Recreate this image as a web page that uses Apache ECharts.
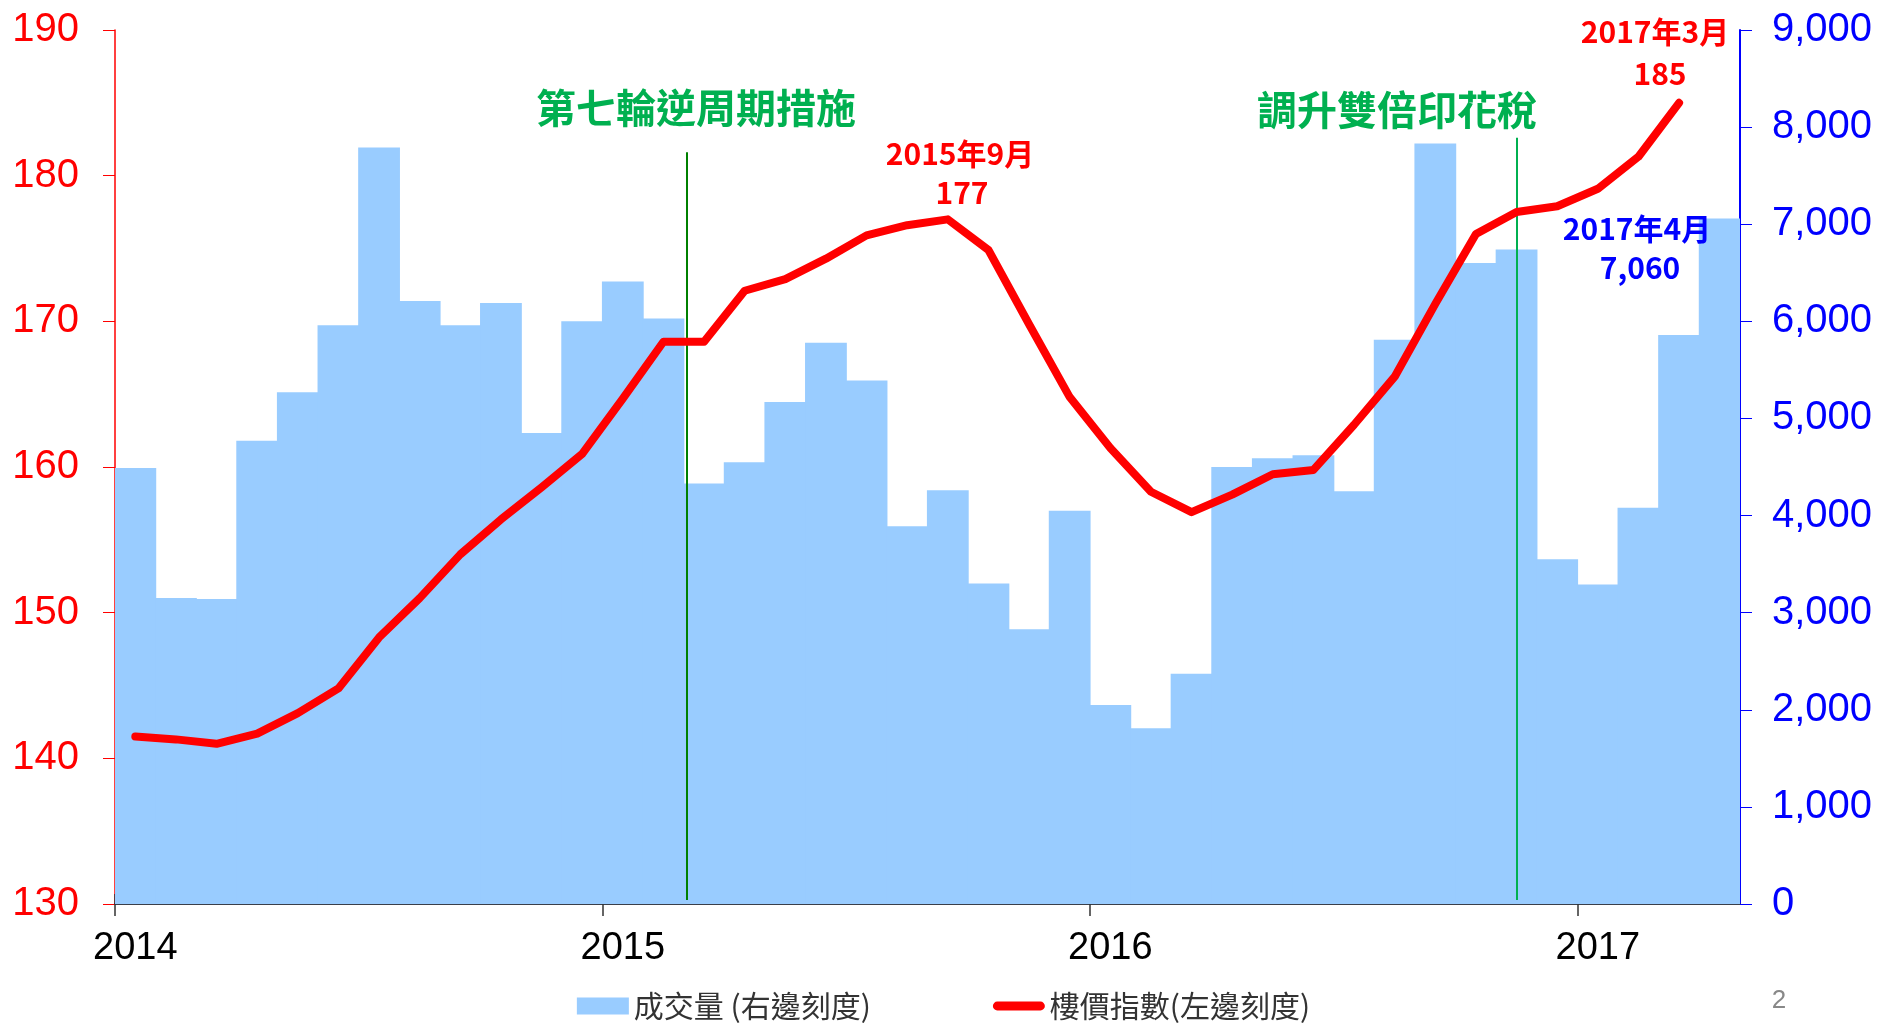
<!DOCTYPE html>
<html>
<head>
<meta charset="utf-8">
<script src="https://cdn.jsdelivr.net/npm/echarts@6/dist/echarts.min.js"></script>
<style>
  html, body { margin: 0; padding: 0; background: #fff; }
  #chart { width: 1887px; height: 1028px; }
</style>
</head>
<body>
<div id="chart"></div>
<script>
// months Jan 2014 .. Apr 2017
var months = [
  '2014/1','2014/2','2014/3','2014/4','2014/5','2014/6','2014/7','2014/8','2014/9','2014/10','2014/11','2014/12',
  '2015/1','2015/2','2015/3','2015/4','2015/5','2015/6','2015/7','2015/8','2015/9','2015/10','2015/11','2015/12',
  '2016/1','2016/2','2016/3','2016/4','2016/5','2016/6','2016/7','2016/8','2016/9','2016/10','2016/11','2016/12',
  '2017/1','2017/2','2017/3','2017/4'
];
// 成交量 (right axis)
var volume = [
  4490, 3150, 3140, 4770, 5270, 5960, 7790, 6210, 5960, 6190, 4850, 6000,
  6410, 6030, 4330, 4550, 5170, 5780, 5390, 3890, 4260, 3300, 2830, 4050,
  2050, 1810, 2370, 4500, 4590, 4620, 4250, 5810, 7830, 6600, 6740, 3550,
  3290, 4080, 5860, 7060
];
// 樓價指數 (left axis), up to Mar 2017
var priceIdx = [
  141.5, 141.3, 141.0, 141.7, 143.1, 144.8, 148.3, 151.0, 154.0, 156.4, 158.6, 160.9,
  164.7, 168.6, 168.6, 172.1, 172.9, 174.3, 175.9, 176.6, 177.0, 174.9, 169.8, 164.8,
  161.3, 158.3, 156.9, 158.1, 159.5, 159.8, 162.9, 166.2, 171.2, 176.0, 177.5, 177.9,
  179.1, 181.3, 185.0
];
// year boundaries (month index from Jan 2014)
var yearStarts = [0, 12, 24, 36];
// policy events: position in months from Jan 2014, line span on left scale
var eventNames = ['第七輪逆周期措施', '調升雙倍印花稅'];
var eventPos = [14.07, 34.5];
var eventTop = [181.6, 182.6];
var eventColors = ['#008000', '#00B050'];

var chart = echarts.init(document.getElementById('chart'));
var numFmt = function (v) { return String(v).replace(/\B(?=(\d{3})+(?!\d))/g, ','); };
var cjk = '"Noto Sans CJK TC", "Noto Sans CJK SC", sans-serif';

var markLines = [];
for (var i = 0; i < eventPos.length; i++) {
  markLines.push([
    { coord: [eventPos[i], 130.27], lineStyle: { color: eventColors[i], width: 2, type: 'solid' } },
    { coord: [eventPos[i], eventTop[i]] }
  ]);
}

function tickAxis(inside) {
  return {
    type: 'value',
    position: 'bottom',
    min: 0, max: months.length,
    axisLine: { show: false, onZero: false },
    axisLabel: { show: false },
    splitLine: { show: false },
    axisTick: { show: true, inside: inside, length: inside ? 10 : 12, customValues: yearStarts, lineStyle: { color: '#333', width: 1.5 } }
  };
}

var option = {
  animation: false,
  grid: { left: 115, right: 147, top: 30, bottom: 124, containLabel: false },
  legend: {
    bottom: 2,
    left: 'center',
    itemWidth: 52,
    itemHeight: 17,
    itemGap: 122,
    textStyle: { color: '#333', fontSize: 30, fontFamily: cjk },
    data: [
      { name: '成交量 (右邊刻度)', icon: 'rect' },
      { name: '樓價指數(左邊刻度)', icon: 'path://M0,0M52,17M4,4L48,4A4.5,4.5,0,0,1,48,13L4,13A4.5,4.5,0,0,1,4,4Z' }
    ]
  },
  xAxis: [
    {
      type: 'category',
      data: months,
      boundaryGap: true,
      position: 'bottom',
      axisLine: { onZero: false, lineStyle: { color: '#3a3f4a', width: 2 } },
      axisTick: { show: false },
      axisLabel: {
        interval: 11, margin: 26, color: '#000', fontSize: 38, fontFamily: 'Liberation Sans, Arial',
        formatter: function (v) { return v.split('/')[0]; }
      },
      splitLine: { show: false }
    },
    tickAxis(false),
    tickAxis(true)
  ],
  yAxis: [
    {
      type: 'value',
      position: 'left',
      min: 130, max: 190, interval: 10,
      axisLine: { show: true, onZero: false, lineStyle: { color: '#FF0000', width: 1.5 } },
      axisTick: { show: true, length: 12, lineStyle: { color: '#FF0000' } },
      axisLabel: { color: '#FF0000', fontSize: 40, margin: 36, fontFamily: 'Liberation Sans, Arial' },
      splitLine: { show: false }
    },
    {
      type: 'value',
      position: 'right',
      min: 0, max: 9000, interval: 1000,
      axisLine: { show: true, onZero: false, lineStyle: { color: '#0000FF', width: 2 } },
      axisTick: { show: true, length: 12, lineStyle: { color: '#0000FF' } },
      axisLabel: { color: '#0000FF', fontSize: 40, margin: 32, fontFamily: 'Liberation Sans, Arial', formatter: numFmt },
      splitLine: { show: false }
    }
  ],
  series: [
    {
      name: '成交量 (右邊刻度)',
      type: 'bar',
      xAxisIndex: 0,
      yAxisIndex: 1,
      data: volume,
      barWidth: 41.8,
      barGap: '-100%',
      itemStyle: { color: '#99CCFF' },
      z: 1
    },
    {
      name: '樓價指數(左邊刻度)',
      type: 'line',
      xAxisIndex: 0,
      yAxisIndex: 0,
      data: priceIdx,
      symbol: 'none',
      lineStyle: { color: '#FF0000', width: 8, cap: 'round', join: 'round' },
      itemStyle: { color: '#FF0000' },
      z: 5
    },
    {
      name: 'events',
      type: 'line',
      xAxisIndex: 1,
      yAxisIndex: 0,
      data: [],
      z: 4,
      markLine: {
        silent: true,
        symbol: ['none', 'none'],
        label: { show: false },
        data: markLines
      }
    }
  ]
};

// annotation texts
var g = [];
function addText(text, cx, cy, color, size, weight, family) {
  g.push({
    type: 'text', x: cx, y: cy, z: 100,
    style: { text: text, fill: color, fontSize: size, fontWeight: weight, fontFamily: family, align: 'center', verticalAlign: 'middle' }
  });
}
addText(eventNames[0], 696, 108, '#00B050', 40, 'bold', cjk);
addText(eventNames[1], 1397, 110, '#00B050', 40, 'bold', cjk);
addText('2015年9月', 960, 154, '#FF0000', 30, 'bold', cjk);
addText(String(Math.round(priceIdx[20])), 962, 193, '#FF0000', 30, 'bold', cjk);
addText('2017年3月', 1655, 32, '#FF0000', 30, 'bold', cjk);
addText(String(Math.round(priceIdx[38])), 1660, 74, '#FF0000', 30, 'bold', cjk);
addText('2017年4月', 1637, 229, '#0000FF', 30, 'bold', cjk);
addText(numFmt(volume[39]), 1640, 268, '#0000FF', 30, 'bold', cjk);
addText('2', 1779, 1001, '#888888', 26, 'normal', 'Liberation Sans, Arial');
option.graphic = g;

chart.setOption(option);
</script>
</body>
</html>
